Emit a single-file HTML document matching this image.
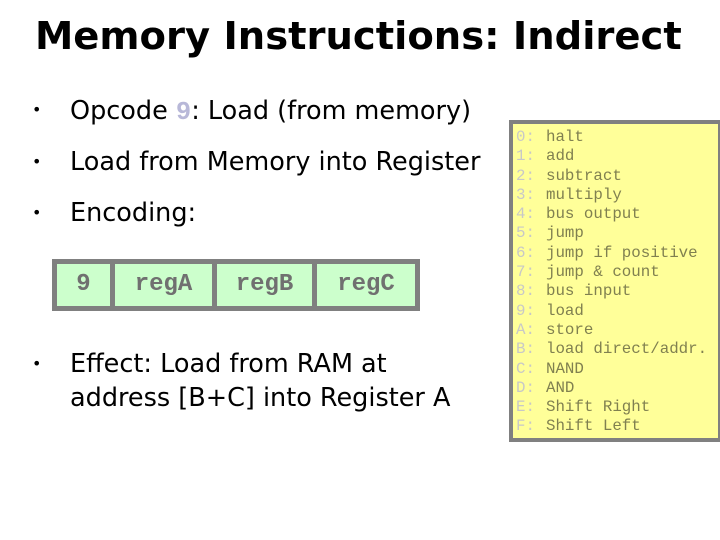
<!DOCTYPE html>
<html><head><meta charset="utf-8"><style>
body{margin:0;width:720px;height:540px;background:#fff;position:relative;overflow:hidden;font-family:"DejaVu Sans","Liberation Sans",sans-serif;}
.t{position:absolute;white-space:nowrap;}
#title{left:35px;top:14px;font-size:38.5px;font-weight:bold;font-family:"DejaVu Sans",sans-serif;}
.b{font-size:25.5px;color:#000;}
.dot{position:absolute;font-size:16px;}
#enc{position:absolute;left:52px;top:259px;width:368px;height:52px;background:#808080;}
.c{position:absolute;top:5px;height:42px;background:#ccffcc;color:#707070;font:bold 24px "Liberation Mono",monospace;text-align:center;line-height:42px;}
#tbl{position:absolute;left:509px;top:120px;width:205px;height:314px;background:#ffff99;border:4px solid #808080;}
.row{position:absolute;left:3px;font:15.8px "Liberation Mono",monospace;color:#808050;white-space:nowrap;}
.row span{color:#c8c8c8;margin-right:11px;}
</style></head><body>
<div class="t" id="title">Memory Instructions: Indirect</div>
<div class="dot" style="left:32px;top:100px">•</div>
<div class="t b" style="left:70px;top:96px">Opcode <span style="color:#b8b8d8;font-family:'Liberation Mono',monospace;font-weight:bold"> 9</span>: Load (from memory)</div>
<div class="dot" style="left:32px;top:152px">•</div>
<div class="t b" style="left:70px;top:147px">Load from Memory into Register</div>
<div class="dot" style="left:32px;top:203px">•</div>
<div class="t b" style="left:70px;top:198px">Encoding:</div>
<div id="enc">
<div class="c" style="left:5px;width:53px">9</div>
<div class="c" style="left:63px;width:97px">regA</div>
<div class="c" style="left:165px;width:95px">regB</div>
<div class="c" style="left:265px;width:98px">regC</div>
</div>
<div class="dot" style="left:32px;top:354px">•</div>
<div class="t b" style="left:70px;top:347px;line-height:34px">Effect: Load from RAM at<br>address [B+C] into Register A</div>
<div id="tbl">
<div class="row" style="top:4px"><span>0:</span>halt</div>
<div class="row" style="top:23px"><span>1:</span>add</div>
<div class="row" style="top:43px"><span>2:</span>subtract</div>
<div class="row" style="top:62px"><span>3:</span>multiply</div>
<div class="row" style="top:81px"><span>4:</span>bus output</div>
<div class="row" style="top:100px"><span>5:</span>jump</div>
<div class="row" style="top:120px"><span>6:</span>jump if positive</div>
<div class="row" style="top:139px"><span>7:</span>jump &amp; count</div>
<div class="row" style="top:158px"><span>8:</span>bus input</div>
<div class="row" style="top:178px"><span>9:</span>load</div>
<div class="row" style="top:197px"><span>A:</span>store</div>
<div class="row" style="top:216px"><span>B:</span>load direct/addr.</div>
<div class="row" style="top:236px"><span>C:</span>NAND</div>
<div class="row" style="top:255px"><span>D:</span>AND</div>
<div class="row" style="top:274px"><span>E:</span>Shift Right</div>
<div class="row" style="top:293px"><span>F:</span>Shift Left</div>
</div>
</body></html>
